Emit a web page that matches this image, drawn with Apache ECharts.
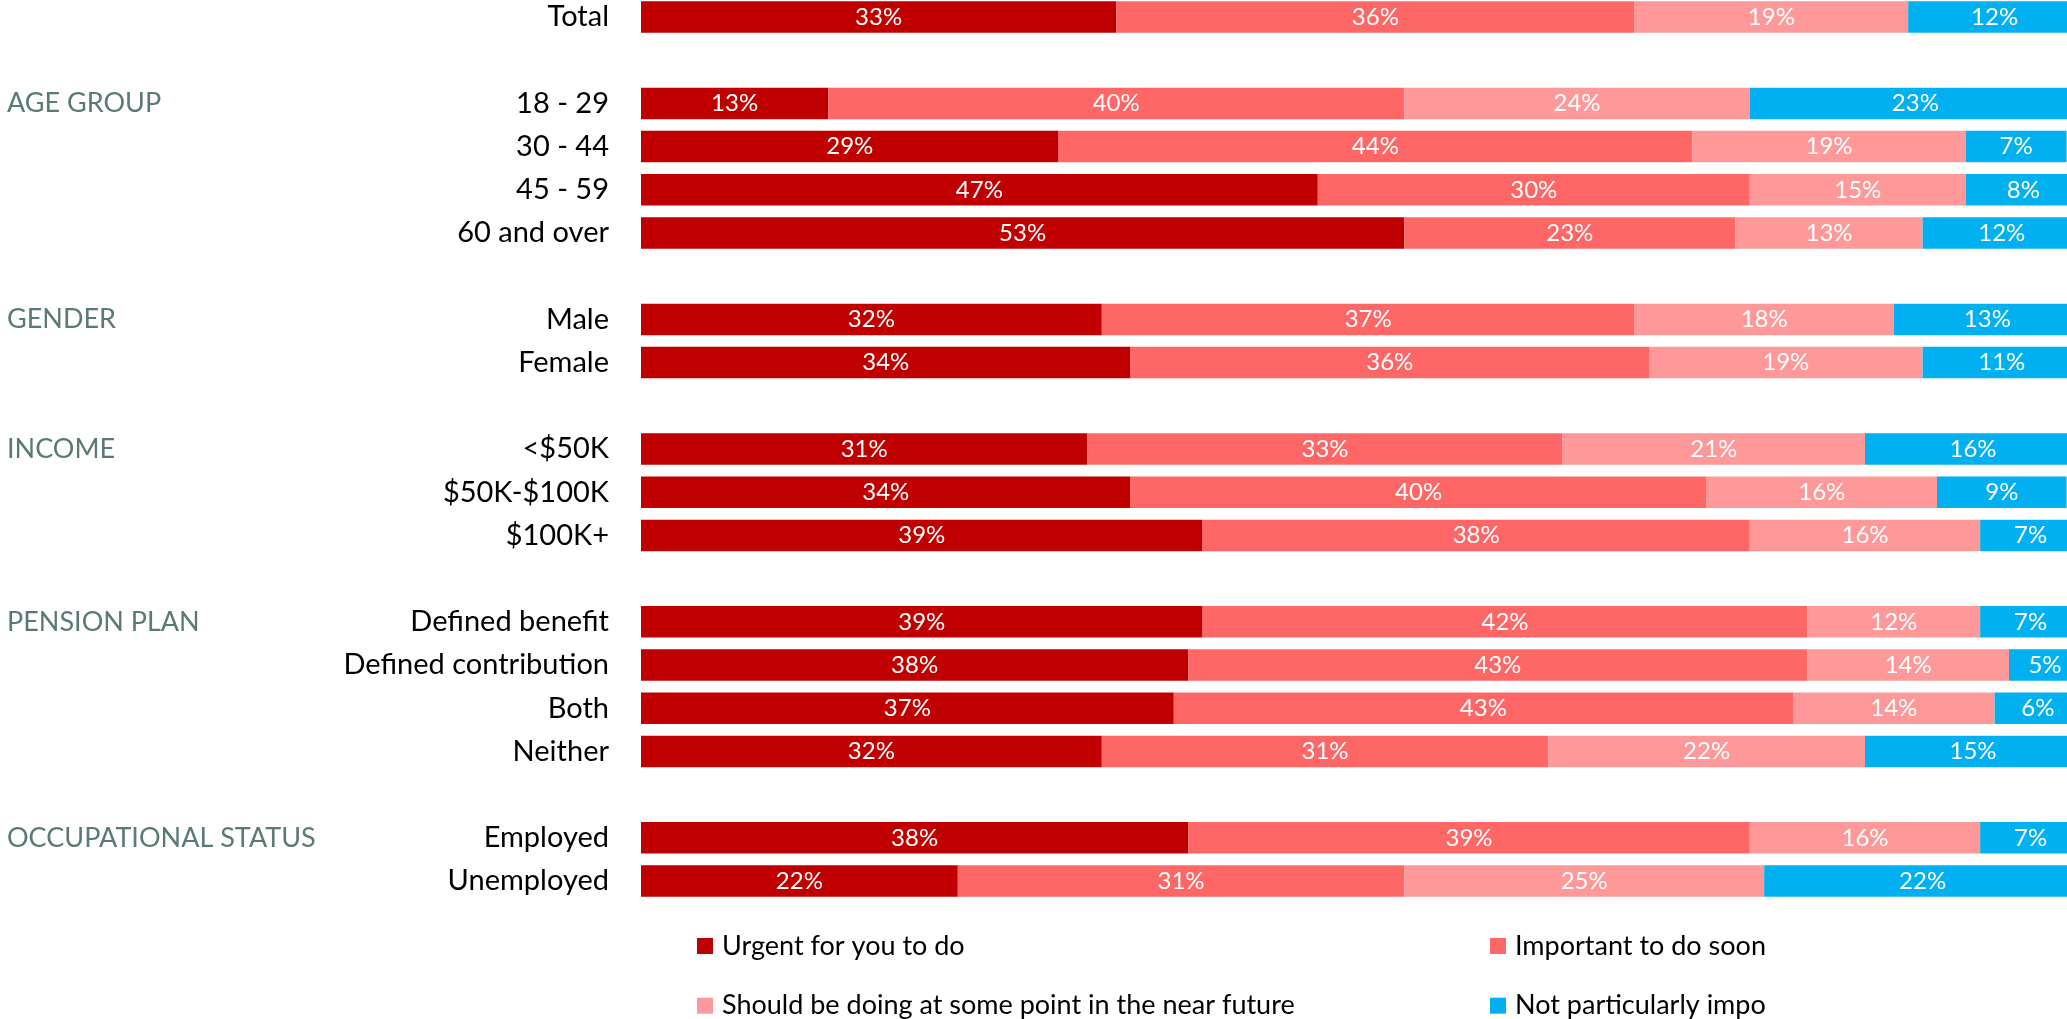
<!DOCTYPE html>
<html>
<head>
<meta charset="utf-8">
<title>Priority of retirement planning by group</title>
<script src="https://cdn.jsdelivr.net/npm/echarts@6/dist/echarts.min.js"></script>
<style>
  html, body { margin: 0; padding: 0; overflow: hidden; background: #fff; }
  body { position: relative; width: 2067px; height: 1019px; }
  /* Canvas runs a little past the page edges; the page crops it */
  #chart { position: absolute; left: 0; top: -20px; width: 2100px; height: 1120px; }
</style>
</head>
<body>
<div id="chart"></div>
<script>
// Row labels; empty strings are spacer rows between groups
const categories = [
  'Total', '',
  '18 - 29', '30 - 44', '45 - 59', '60 and over', '',
  'Male', 'Female', '',
  '<$50K', '$50K-$100K', '$100K+', '',
  'Defined benefit', 'Defined contribution', 'Both', 'Neither', '',
  'Employed', 'Unemployed'
];

// Group headings shown at the far left, on the first row of each group
const groupHeaders = [
  '', '',
  'AGE GROUP', '', '', '', '',
  'GENDER', '', '',
  'INCOME', '', '', '',
  'PENSION PLAN', '', '', '', '',
  'OCCUPATIONAL STATUS', ''
];

const seriesNames = [
  'Urgent for you to do',
  'Important to do soon',
  'Should be doing at some point in the near future',
  'Not particularly important'
];

// Percent of respondents per row (null = spacer row)
const urgent      = [33, null, 13, 29, 47, 53, null, 32, 34, null, 31, 34, 39, null, 39, 38, 37, 32, null, 38, 22];
const important   = [36, null, 40, 44, 30, 23, null, 37, 36, null, 33, 40, 38, null, 42, 43, 43, 31, null, 39, 31];
const shouldDo    = [19, null, 24, 19, 15, 13, null, 18, 19, null, 21, 16, 16, null, 12, 14, 14, 22, null, 16, 25];
const notImportant= [12, null, 23,  7,  8, 12, null, 13, 11, null, 16,  9,  7, null,  7,  5,  6, 15, null,  7, 22];

const colors = ['#C00000', '#FF6666', '#FF9999', '#00B0F0'];
const FONT = 'Lato, "Open Sans", sans-serif';

const chart = echarts.init(document.getElementById('chart'), null, { renderer: 'canvas' });

const rowKeys = categories.map((_, i) => String(i));

function makeSeries(name, values, color) {
  return {
    name: name,
    type: 'bar',
    stack: 'share',
    barWidth: 31.5,
    yAxisIndex: 0,
    itemStyle: { color: color },
    label: {
      show: true,
      position: 'inside',
      color: '#ffffff',
      fontFamily: FONT,
      fontSize: 24,
      formatter: p => (p.value == null ? '' : p.value + '%')
    },
    emphasis: { disabled: true },
    data: values
  };
}

const legendText = {
  color: '#000000',
  fontFamily: FONT,
  fontSize: 27,
  lineHeight: 30,
  padding: [0, 0, 0, 4]
};

chart.setOption({
  animation: false,
  backgroundColor: '#ffffff',
  grid: { left: 641, right: 19, top: 15.4, bottom: 197.4, containLabel: false },
  xAxis: {
    type: 'value',
    min: 0,
    max: 100,
    show: false
  },
  yAxis: [
    {
      type: 'category',
      inverse: true,
      data: rowKeys,
      axisLine: { show: false },
      axisTick: { show: false },
      splitLine: { show: false },
      axisLabel: {
        margin: 32,
        color: '#000000',
        fontFamily: FONT,
        fontSize: 29,
        formatter: (v, i) => categories[i]
      }
    },
    {
      type: 'category',
      inverse: true,
      position: 'left',
      offset: 634,
      data: rowKeys,
      axisLine: { show: false },
      axisTick: { show: false },
      splitLine: { show: false },
      axisLabel: {
        margin: 0,
        align: 'left',
        color: '#5A7A76',
        fontFamily: FONT,
        fontSize: 27,
        formatter: (v, i) => groupHeaders[i]
      }
    }
  ],
  legend: [
    {
      orient: 'vertical',
      left: 697,
      top: 951,
      padding: 0,
      itemWidth: 16,
      itemHeight: 16,
      itemGap: 29.7,
      icon: 'rect',
      selectedMode: false,
      data: [seriesNames[0], seriesNames[2]],
      textStyle: legendText
    },
    {
      orient: 'vertical',
      left: 1490,
      top: 951,
      padding: 0,
      itemWidth: 16,
      itemHeight: 16,
      itemGap: 29.7,
      icon: 'rect',
      selectedMode: false,
      data: [seriesNames[1], seriesNames[3]],
      textStyle: Object.assign({}, legendText, { width: 252, overflow: 'truncate', ellipsis: '' })
    }
  ],
  series: [
    makeSeries(seriesNames[0], urgent, colors[0]),
    makeSeries(seriesNames[1], important, colors[1]),
    makeSeries(seriesNames[2], shouldDo, colors[2]),
    makeSeries(seriesNames[3], notImportant, colors[3])
  ]
});
</script>
</body>
</html>
